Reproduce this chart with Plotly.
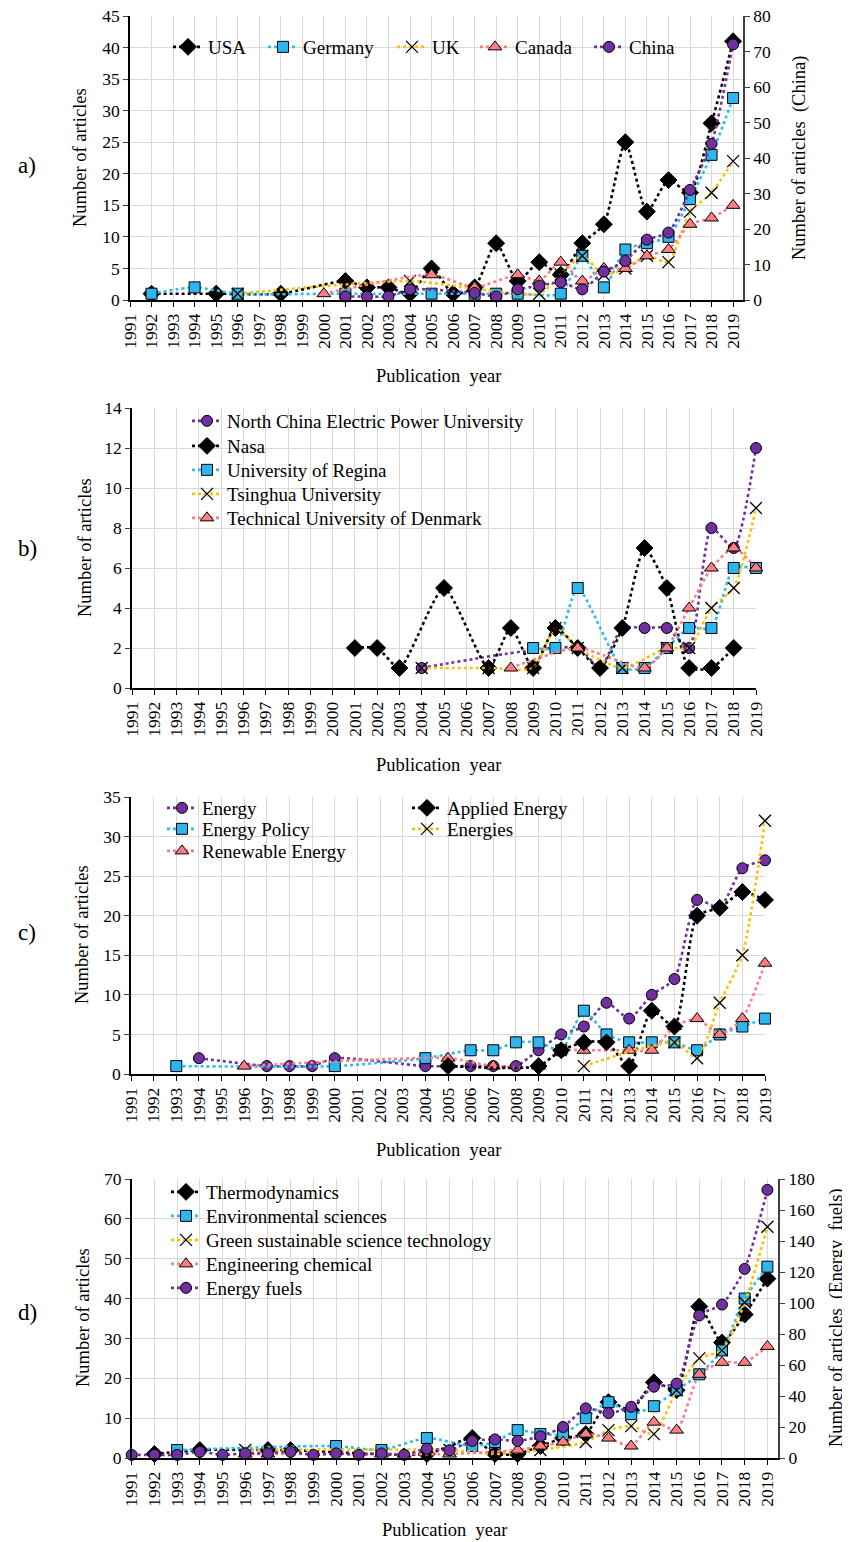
import plotly.graph_objects as go

N = None
YEARS = list(range(1991, 2020))
YEAR_LABELS = [str(y) for y in YEARS]

# ---------------- panel a (countries) ----------------
#           1991 ........................... 2000 | 2001 ........................ 2010 | 2011 ................... 2019
A_USA     = [N, 1, N, N, 1, N, N, 1, N, N,   3, 2, 2, 1, 5, 1, 2, 9, 3, 6,   4, 9, 12, 25, 14, 19, 17, 28, 41]
A_GERMANY = [N, 1, N, 2, N, 1, N, N, N, N,   1, N, N, N, 1, N, 1, 1, 1, N,   1, 7, 2, 8, 9, 10, 16, 23, 32]
A_UK      = [N, N, N, N, N, 1, N, N, N, N,   N, N, N, 3, N, N, N, N, N, 1,   4, 7, 4, 5, 7, 6, 14, 17, 22]
A_CANADA  = [N, N, N, N, N, N, N, N, N, 1,   N, N, N, N, 4, N, 2, N, 4, 3,   6, 3, 5, 5, 7, 8, 12, 13, 15]
A_CHINA   = [N, N, N, N, N, N, N, N, N, N,   1, 1, 1, 3, N, N, 2, 1, 3, 4,   5, 3, 8, 11, 17, 19, 31, 44, 72]

# ---------------- panel b (institutions) ----------------
B_NCEPU    = [N]*10 + [N, N, N, 1, N, N, N, N, N, N,   2, 1, 3, 3, 3, 2, 8, 7, 12]
B_NASA     = [N]*10 + [2, 2, 1, N, 5, N, 1, 3, 1, 3,   2, 1, 3, 7, 5, 1, 1, 2, N]
B_REGINA   = [N]*10 + [N, N, N, N, N, N, N, N, 2, 2,   5, N, 1, 1, 2, 3, 3, 6, 6]
B_TSINGHUA = [N]*10 + [N, N, N, 1, N, N, 1, N, 1, 3,   2, N, 1, N, 2, 2, 4, 5, 9]
B_DTU      = [N]*10 + [N, N, N, N, N, N, N, 1, N, N,   2, N, N, 1, 2, 4, 6, 7, 6]

# ---------------- panel c (journals) ----------------
C_ENERGY   = [N, N, N, 2, N, N, 1, 1, 1, 2,   N, N, N, 1, N, 1, 1, 1, 3, 5,   6, 9, 7, 10, 12, 22, 21, 26, 27]
C_POLICY   = [N, N, 1, N, N, N, N, N, N, 1,   N, N, N, 2, N, 3, 3, 4, 4, 3,   8, 5, 4, 4, 4, 3, 5, 6, 7]
C_RENEW    = [N, N, N, N, N, 1, N, N, N, N,   N, N, N, N, 2, N, 1, N, 1, 3,   3, N, 3, 3, 6, 7, 5, 7, 14]
C_APPLIED  = [N]*10 + [N, N, N, N, 1, N, N, N, 1, 3,   4, 4, 1, 8, 6, 20, 21, 23, 22]
C_ENERGIES = [N]*10 + [N, N, N, N, N, N, N, N, N, N,   1, N, N, N, 4, 2, 9, 15, 32]

# ---------------- panel d (categories) ----------------
D_THERMO  = [N, 1, N, 2, N, N, 2, 2, N, N,   N, N, N, 1, N, 5, 1, 1, 3, 5,   6, 14, 12, 19, 17, 38, 29, 36, 45]
D_ENVSCI  = [N, N, 2, N, N, N, N, N, N, 3,   N, 2, N, 5, N, 3, 4, 7, 6, 6,   10, 14, 11, 13, 17, 21, 27, 40, 48]
D_GREEN   = [N, N, N, N, N, 2, N, N, N, N,   N, N, N, N, 2, N, 1, N, 2, N,   4, 7, 8, 6, 17, 25, 27, 39, 58]
D_ENGCHEM = [N, N, N, N, N, 1, 1, N, N, N,   N, 1, 1, N, 1, N, N, 2, 3, 4,   6, 5, 3, 9, 7, 21, 24, 24, 28]
D_FUELS   = [2, 2, 2, 4, 2, 3, 3, 4, 2, 3,   2, 3, 2, 6, 5, 11, 12, 11, 14, 20,   32, 29, 33, 46, 48, 92, 99, 122, 173]

# ---------------- styles / geometry ----------------
FONT = "Liberation Serif"
OX, OY = 8, 8            # page body margin
W, H = 842, 1534         # figure size (fills the 850x1542 window after the margin)
GRID = "#d9d9d9"
LEG_OFFSET = 40          # legend box left edge -> text start, px
LEG_FONT = 19
TITLE_FONT = 18.5


def X(px):
    return (px - OX) / W


def Y(py):
    return 1 - (py - OY) / H


STYLE = {
    "diamond": dict(line="#000000", marker=dict(symbol="diamond", color="#000000", size=13,
                                                 line=dict(color="#000000", width=1))),
    "square": dict(line="#2bbdf2", marker=dict(symbol="square", color="#2cb5ee", size=11,
                                                line=dict(color="#000000", width=1))),
    "x": dict(line="#ffc000", marker=dict(symbol="x-thin-open", color="#000000", size=12,
                                           line=dict(color="#000000", width=1.3))),
    "triangle": dict(line="#ff7c80", marker=dict(symbol="triangle-up", color="#ff7c80", size=12,
                                                  line=dict(color="#000000", width=1))),
    "circle": dict(line="#7030a0", marker=dict(symbol="circle", color="#7030a0", size=11,
                                                line=dict(color="#000000", width=1))),
}

fig = go.Figure()
legends = {}
_count = [0]


def add(name, values, kind, xa, ya, text_x, row_y):
    """text_x/row_y: page-pixel position of the legend text start / row centre."""
    _count[0] += 1
    lid = "legend" if _count[0] == 1 else f"legend{_count[0]}"
    st = STYLE[kind]
    fig.add_trace(go.Scatter(
        x=YEARS, y=values, name=name, mode="lines+markers", connectgaps=True,
        line=dict(color=st["line"], width=2.6, dash="dot", shape="spline", smoothing=0.6),
        marker=st["marker"], xaxis=xa, yaxis=ya, legend=lid, cliponaxis=False,
    ))
    legends[lid] = dict(x=X(text_x - LEG_OFFSET), y=Y(row_y), xanchor="left",
                        yanchor="middle", orientation="v", bgcolor="rgba(0,0,0,0)",
                        borderwidth=0, font=dict(family=FONT, size=LEG_FONT, color="#000000"),
                        itemclick=False, itemdoubleclick=False)


# panel a
add("USA", A_USA, "diamond", "x", "y", 208, 47)
add("Germany", A_GERMANY, "square", "x", "y", 303, 47)
add("UK", A_UK, "x", "x", "y", 432, 47)
add("Canada", A_CANADA, "triangle", "x", "y", 515, 47)
add("China", A_CHINA, "circle", "x", "y2", 629, 47)

# panel b
add("North China Electric Power University", B_NCEPU, "circle", "x2", "y3", 227, 421)
add("Nasa", B_NASA, "diamond", "x2", "y3", 227, 446)
add("University of Regina", B_REGINA, "square", "x2", "y3", 227, 470)
add("Tsinghua University", B_TSINGHUA, "x", "x2", "y3", 227, 494)
add("Technical University of Denmark", B_DTU, "triangle", "x2", "y3", 227, 518)

# panel c
add("Energy", C_ENERGY, "circle", "x3", "y4", 202, 808)
add("Energy Policy", C_POLICY, "square", "x3", "y4", 202, 829)
add("Renewable Energy", C_RENEW, "triangle", "x3", "y4", 202, 851)
add("Applied Energy", C_APPLIED, "diamond", "x3", "y4", 447, 808)
add("Energies", C_ENERGIES, "x", "x3", "y4", 447, 829)

# panel d
add("Thermodynamics", D_THERMO, "diamond", "x4", "y5", 206, 1192)
add("Environmental sciences", D_ENVSCI, "square", "x4", "y5", 206, 1216)
add("Green sustainable science technology", D_GREEN, "x", "x4", "y5", 206, 1240)
add("Engineering chemical", D_ENGCHEM, "triangle", "x4", "y5", 206, 1264)
add("Energy fuels", D_FUELS, "circle", "x4", "y6", 206, 1288)


def xd(px0, px1):
    return [X(px0), X(px1)]


def yd(py_bottom, py_top):
    return [Y(py_bottom), Y(py_top)]


tickfont = dict(family=FONT, size=17.5, color="#000000")


def xaxis(dom, rng, anchor):
    return dict(domain=dom, range=rng, anchor=anchor, tickmode="array", tickvals=YEARS,
                ticktext=YEAR_LABELS, tickangle=-90, tickfont=tickfont, showgrid=True,
                gridcolor=GRID, gridwidth=1, showline=True, linecolor="#000000", linewidth=1.5,
                ticks="outside", ticklen=5, tickcolor="#000000", zeroline=False,
                fixedrange=True, automargin=False, ticklabeloverflow="allow")


def yaxis(dom, rng, dtick, anchor, side="left", overlaying=None, grid=True):
    d = dict(domain=dom, range=rng, dtick=dtick, anchor=anchor, side=side, tickfont=tickfont,
             showgrid=grid, gridcolor=GRID, gridwidth=1, showline=True,
             linecolor="#000000" if side == "left" else "#404040", linewidth=1.5,
             ticks="outside", ticklen=5, tickcolor="#404040", zeroline=False,
             fixedrange=True, automargin=False, ticklabeloverflow="allow")
    if overlaying:
        d["overlaying"] = overlaying
    return d


layout = dict(
    width=W, height=H, margin=dict(l=0, r=0, t=0, b=0, autoexpand=False),
    paper_bgcolor="white", plot_bgcolor="white",
    font=dict(family=FONT, size=17, color="#000000"),
    xaxis=xaxis(xd(130, 743), [1991, 2019.46], "y"),
    yaxis=yaxis(yd(300, 16), [0, 45], 5, "x"),
    yaxis2=yaxis(yd(300, 16), [0, 80], 10, "x", side="right", overlaying="y", grid=False),
    xaxis2=xaxis(xd(132, 756), [1991, 2019], "y3"),
    yaxis3=yaxis(yd(688, 408), [0, 14], 2, "x2"),
    xaxis3=xaxis(xd(131, 765), [1991, 2019], "y4"),
    yaxis4=yaxis(yd(1074, 797), [0, 35], 5, "x3"),
    xaxis4=xaxis(xd(131.7, 778.3), [1991, 2019.48], "y5"),
    yaxis5=yaxis(yd(1458, 1179), [0, 70], 10, "x4"),
    yaxis6=yaxis(yd(1458, 1179), [0, 180], 20, "x4", side="right", overlaying="y5", grid=False),
    showlegend=True,
)
layout.update(legends)
fig.update_layout(**layout)


def ann(text, px, py, size=TITLE_FONT, angle=0):
    fig.add_annotation(text=text, x=X(px), y=Y(py), xref="paper", yref="paper",
                       showarrow=False, textangle=angle, xanchor="center", yanchor="middle",
                       font=dict(family=FONT, size=size, color="#000000"))


# axis titles
ann("Number of articles", 80, 158, angle=-90)
ann("Number of articles\u00a0 (China)", 799, 158, angle=-90)
ann("Publication\u00a0 year", 438, 376)
ann("Number of articles", 85, 548, angle=-90)
ann("Publication\u00a0 year", 438, 765)
ann("Number of articles", 82, 935, angle=-90)
ann("Publication\u00a0 year", 438, 1150)
ann("Number of articles", 83, 1318, angle=-90)
ann("Number of articles\u00a0 (Energy\u00a0 fuels)", 836, 1318, angle=-90)
ann("Publication\u00a0 year", 445, 1530)

# panel labels
ann("a)", 27, 165, size=23)
ann("b)", 27, 548, size=23)
ann("c)", 27, 932, size=23)
ann("d)", 27, 1312, size=23)

fig.write_html("out.html", config=dict(displayModeBar=False))
